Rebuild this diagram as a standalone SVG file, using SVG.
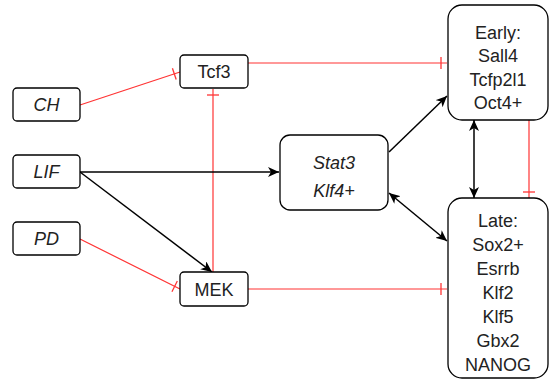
<svg xmlns="http://www.w3.org/2000/svg" width="549" height="380" viewBox="0 0 549 380">
<style>
.box{fill:#fff;stroke:#000;stroke-width:1.3}
.t{font-family:"Liberation Sans",Arial,sans-serif;font-size:18px;fill:#222;text-anchor:middle}
.i{font-style:italic}
.blk{fill:none;stroke:#000;stroke-width:1.5}
.red{fill:none;stroke:#ff3333;stroke-width:1.2}
</style>
<defs>
<marker id="arr" markerUnits="userSpaceOnUse" markerWidth="12" markerHeight="10" refX="11" refY="5" orient="auto-start-reverse" viewBox="0 0 12 10">
<path d="M0,0 L11,5 L0,10 L3,5 Z" fill="#000"/>
</marker>
<marker id="bar" markerUnits="userSpaceOnUse" markerWidth="12" markerHeight="14" refX="11" refY="7" orient="auto" viewBox="0 0 12 14">
<path d="M5,1 L5,13" stroke="#ff3333" stroke-width="1.3" fill="none"/>
</marker>
</defs>
<rect width="549" height="380" fill="#fff"/>
<g id="connectors">
<path class="red" d="M80,105 L180,72" marker-end="url(#bar)"/>
<path class="red" d="M248,63 L447,63" marker-end="url(#bar)"/>
<path class="red" d="M213,272 L213,89" marker-end="url(#bar)"/>
<path class="blk" d="M80,172 L279,172" marker-end="url(#arr)"/>
<path class="blk" d="M80,172 L212,272" marker-end="url(#arr)"/>
<path class="red" d="M80,239 L180,289" marker-end="url(#bar)"/>
<path class="red" d="M248,289 L447,289" marker-end="url(#bar)"/>
<path class="blk" d="M389,152 L447,96" marker-end="url(#arr)"/>
<path class="blk" d="M389,193 L447,241" marker-start="url(#arr)" marker-end="url(#arr)"/>
<path class="blk" d="M474,120 L474,198" marker-start="url(#arr)" marker-end="url(#arr)"/>
<path class="red" d="M529,120 L529,198" marker-end="url(#bar)"/>
</g>
<g id="CH"><rect class="box" x="13" y="88" width="67" height="33" rx="4"/><text class="t i" x="46.5" y="111">CH</text></g>
<g id="LIF"><rect class="box" x="13" y="155" width="67" height="33" rx="4"/><text class="t i" x="46.5" y="178">LIF</text></g>
<g id="PD"><rect class="box" x="13" y="222" width="67" height="33" rx="4"/><text class="t i" x="46.5" y="245">PD</text></g>
<g id="Tcf3"><rect class="box" x="180" y="55" width="68" height="33" rx="4"/><text class="t" x="214" y="78">Tcf3</text></g>
<g id="MEK"><rect class="box" x="180" y="272" width="68" height="34" rx="4"/><text class="t" x="214" y="295.5">MEK</text></g>
<g id="Stat3"><rect class="box" x="280" y="135" width="108" height="75" rx="10"/><text class="t i" x="334" y="168.5">Stat3</text><text class="t i" x="334" y="196.5">Klf4+</text></g>
<g id="Early"><rect class="box" x="448" y="5" width="100" height="115" rx="14"/>
<text class="t" x="498" y="38.5">Early:</text><text class="t" x="498" y="62">Sall4</text><text class="t" x="498" y="85.5">Tcfp2l1</text><text class="t" x="498" y="109">Oct4+</text></g>
<g id="Late"><rect class="box" x="448" y="198" width="100" height="180" rx="14"/>
<text class="t" x="498" y="226.5">Late:</text><text class="t" x="498" y="250.5">Sox2+</text><text class="t" x="498" y="274.5">Esrrb</text><text class="t" x="498" y="298.5">Klf2</text><text class="t" x="498" y="322.5">Klf5</text><text class="t" x="498" y="346.5">Gbx2</text><text class="t" x="498" y="370.5">NANOG</text></g>
</svg>
